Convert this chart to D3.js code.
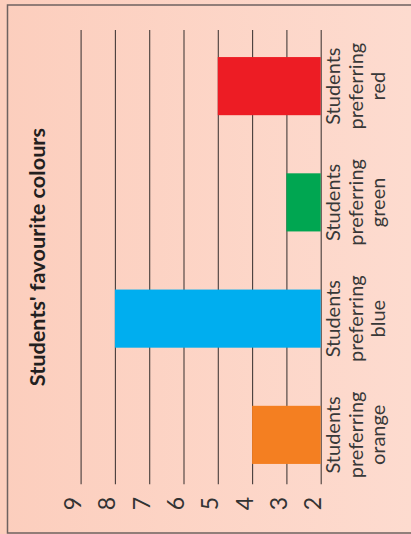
<!DOCTYPE html>
<html>
<head>
<meta charset="utf-8">
<script src="https://cdn.jsdelivr.net/npm/d3@7"></script>
<style>
  html, body { margin: 0; padding: 0; background: #fdd6c7; }
  svg { display: block; }
</style>
</head>
<body>
<svg id="chart" width="411" height="534"></svg>
<script>
// Chart data
const categories = ["orange", "blue", "green", "red"];
const categoryLabels = [
  ["Students", "preferring", "orange"],
  ["Students", "preferring", "blue"],
  ["Students", "preferring", "green"],
  ["Students", "preferring", "red"]
];
const values = [4, 8, 3, 5];
const barColours = ["#f47f21", "#00aeef", "#00a651", "#ed1c24"];
const tickValues = [2, 3, 4, 5, 6, 7, 8, 9];
const title = "Students' favourite colours";

const svgW = 411, svgH = 534;
const svg = d3.select("#chart");

// Peach background with a soft left-to-right fade
const defs = svg.append("defs");
const grad = defs.append("linearGradient").attr("id", "bg")
  .attr("x1", "0%").attr("x2", "100%").attr("y1", "0%").attr("y2", "0%");
grad.append("stop").attr("offset", "0%").attr("stop-color", "#fccebd");
grad.append("stop").attr("offset", "100%").attr("stop-color", "#fddbcf");
svg.append("rect").attr("width", svgW).attr("height", svgH).attr("fill", "url(#bg)");

// Frame (open on the right)
const frame = "#6e6260";
svg.append("path")
  .attr("d", `M${svgW + 2},5 H7.5 V533 H${svgW + 2}`)
  .attr("fill", "none").attr("stroke", frame).attr("stroke-width", 1.5);

// The chart is laid out as an ordinary column chart, then turned a quarter-turn
const g = svg.append("g").attr("transform", `translate(0,${svgH}) rotate(-90)`);

const x = d3.scaleBand().domain(categories).range([41, 506])
  .paddingInner(0.5).paddingOuter(0.25);
const y = d3.scaleLinear().domain([2, 9]).range([320.7, 80.6]);

const gridLeft = 49.7, gridRight = 504;

// Value axis with full-width gridlines
const axis = g.append("g")
  .attr("transform", `translate(${gridLeft},0)`)
  .call(d3.axisLeft(y).tickValues(tickValues).tickFormat(d3.format("d"))
    .tickSize(-(gridRight - gridLeft)).tickPadding(12.7));
axis.select(".domain").remove();
axis.selectAll(".tick line").attr("stroke", "#463c3a").attr("stroke-width", 1.1);
axis.selectAll(".tick text")
  .attr("dy", "0")
  .attr("fill", "#333")
  .style("font-family", "Lato, 'Open Sans', sans-serif")
  .style("font-size", "23px");

// Bars
g.selectAll("rect.bar").data(categories).join("rect")
  .attr("class", "bar")
  .attr("x", d => x(d))
  .attr("width", x.bandwidth())
  .attr("y", (d, i) => y(values[i]))
  .attr("height", (d, i) => y(2) - y(values[i]))
  .attr("fill", (d, i) => barColours[i]);

// Category labels under each bar
const labels = g.selectAll("text.cat").data(categories).join("text")
  .attr("class", "cat")
  .attr("text-anchor", "middle")
  .attr("fill", "#383838")
  .style("font-family", "Lato, 'Open Sans', sans-serif")
  .style("font-size", "20px");
labels.each(function (d, i) {
  const t = d3.select(this);
  categoryLabels[i].forEach((line, k) => {
    t.append("tspan")
      .attr("x", x(d) + x.bandwidth() / 2)
      .attr("y", 340 + k * 22.5)
      .text(line);
  });
});

// Title
g.append("text")
  .attr("x", (gridLeft + gridRight) / 2)
  .attr("y", 45)
  .attr("text-anchor", "middle")
  .attr("fill", "#231f20")
  .style("font-family", "Lato, 'Open Sans', sans-serif")
  .style("font-weight", "bold")
  .style("font-size", "21.7px")
  .text(title);
</script>
</body>
</html>
